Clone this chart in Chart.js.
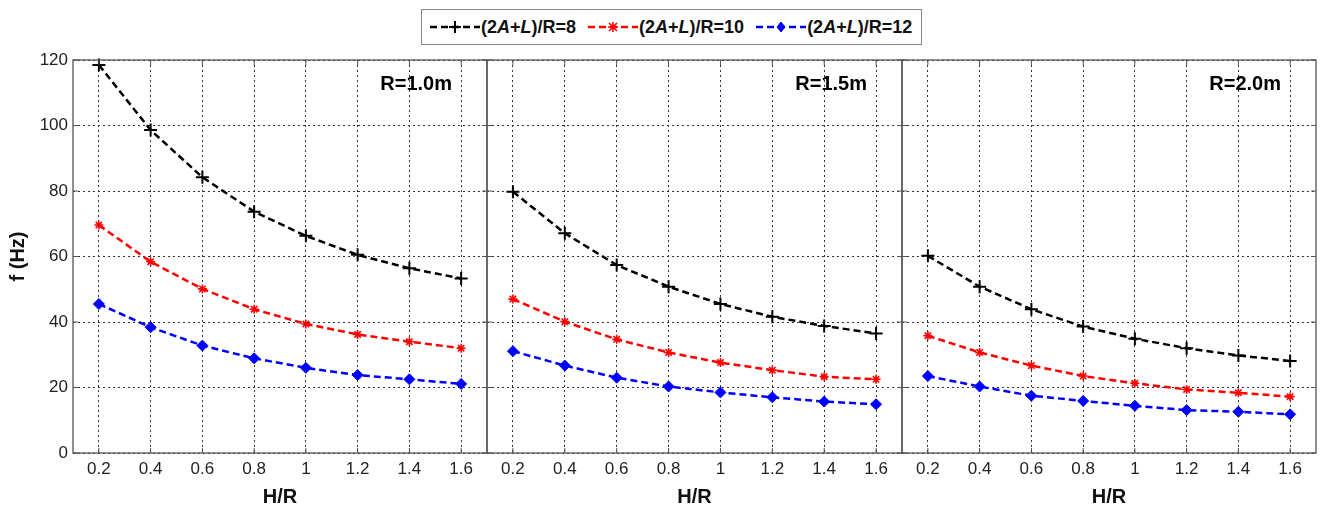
<!DOCTYPE html>
<html>
<head>
<meta charset="utf-8">
<script src="https://cdn.jsdelivr.net/npm/chart.js@4.4.1/dist/chart.umd.min.js"></script>
<style>
  body { margin: 0; background: #fff; width: 1322px; height: 509px; position: relative; overflow: hidden; font-family: Arial, "Liberation Sans", sans-serif; }
  canvas { position: absolute; top: 0; }
  #legend { position: absolute; left: 421px; top: 9px; width: 501px; height: 36px; border: 1px solid #888; background: #fff; display: flex; align-items: center; padding-left: 8px; box-sizing: border-box; z-index: 2; }
  .item { display: flex; align-items: center; margin-right: 12px; font-weight: bold; font-size: 18px; color: #111; }
  .item svg { margin-right: 1px; }
</style>
</head>
<body>
<div id="legend"></div>
<canvas id="p1" width="490" height="509" style="left:0px"></canvas>
<canvas id="p2" width="421" height="509" style="left:484px"></canvas>
<canvas id="p3" width="420" height="509" style="left:899px"></canvas>
<script>
// data
const hrValues = [0.2, 0.4, 0.6, 0.8, 1.0, 1.2, 1.4, 1.6];
const yTickValues = [0, 20, 40, 60, 80, 100, 120];
const seriesLabels = ['(2A+L)/R=8', '(2A+L)/R=10', '(2A+L)/R=12'];
const panelTitles = ['R=1.0m', 'R=1.5m', 'R=2.0m'];

// R = 1.0 m
const fR10_8  = [118.5, 98.6, 84.2, 73.7, 66.3, 60.5, 56.4, 53.3];
const fR10_10 = [69.6, 58.4, 50.1, 43.9, 39.4, 36.2, 34.0, 32.0];
const fR10_12 = [45.5, 38.4, 32.8, 28.9, 26.0, 23.8, 22.5, 21.1];
// R = 1.5 m
const fR15_8  = [79.8, 67.1, 57.4, 50.8, 45.5, 41.6, 38.8, 36.5];
const fR15_10 = [47.0, 40.1, 34.7, 30.7, 27.6, 25.3, 23.3, 22.5];
const fR15_12 = [31.1, 26.7, 23.0, 20.3, 18.5, 17.0, 15.7, 14.9];
// R = 2.0 m
const fR20_8  = [60.2, 50.8, 43.9, 38.6, 34.9, 32.0, 29.8, 28.1];
const fR20_10 = [35.8, 30.7, 26.7, 23.5, 21.3, 19.4, 18.4, 17.2];
const fR20_12 = [23.5, 20.3, 17.5, 15.9, 14.4, 13.1, 12.6, 11.8];

const panelData = [
  [fR10_8, fR10_10, fR10_12],
  [fR15_8, fR15_10, fR15_12],
  [fR20_8, fR20_10, fR20_12]
];

const seriesStyle = [
  { color: '#000', pointStyle: 'cross', radius: 6.5, pw: 2, fill: '#000' },
  { color: '#f00', pointStyle: 'star', radius: 4.5, pw: 1.6, fill: '#f00' },
  { color: '#00f', pointStyle: 'rectRot', radius: 5.5, pw: 1, fill: '#00f' }
];

const FONT = 'Arial, "Liberation Sans", sans-serif';

// legend (html)
const legend = document.getElementById('legend');
seriesLabels.forEach((lab, i) => {
  const s = seriesStyle[i];
  let marker;
  if (i === 0) marker = `<path d="M25 3 V15 M19 9 H31" stroke="${s.color}" stroke-width="2"/>`;
  else if (i === 1) marker = `<path d="M21 5 L29 13 M29 5 L21 13 M25 4 V14 M20 9 H30" stroke="${s.color}" stroke-width="1.6"/>`;
  else marker = `<path d="M25 4 L29 9 L25 14 L21 9 Z" fill="${s.color}" stroke="${s.color}"/>`;
  const div = document.createElement('div');
  div.className = 'item';
  div.innerHTML = `<svg width="50" height="18"><line x1="0" y1="9" x2="50" y2="9" stroke="${s.color}" stroke-width="2.5" stroke-dasharray="7,4"/>${marker}</svg>` +
    `<span>${lab.replace(/([AL])/g, '<i>$1</i>')}</span>`;
  legend.appendChild(div);
});

// frame, inward ticks and panel label
const framePlugin = {
  id: 'frame',
  afterDraw(chart, args, opts) {
    const { ctx, chartArea: a, scales } = chart;
    ctx.save();
    ctx.strokeStyle = '#555';
    ctx.lineWidth = 1.3;
    ctx.strokeRect(a.left, a.top, a.right - a.left, a.bottom - a.top);
    ctx.lineWidth = 1;
    ctx.beginPath();
    hrValues.forEach(v => {
      const x = scales.x.getPixelForValue(v);
      ctx.moveTo(x, a.bottom); ctx.lineTo(x, a.bottom - 5);
      ctx.moveTo(x, a.top); ctx.lineTo(x, a.top + 5);
    });
    yTickValues.forEach(v => {
      const y = scales.y.getPixelForValue(v);
      ctx.moveTo(a.left, y); ctx.lineTo(a.left + 5, y);
      ctx.moveTo(a.right, y); ctx.lineTo(a.right - 5, y);
    });
    ctx.stroke();
    ctx.fillStyle = '#000';
    ctx.font = 'bold 20px ' + FONT;
    ctx.textAlign = 'right';
    ctx.textBaseline = 'middle';
    ctx.fillText(opts.title, a.right - 35, a.top + 24);
    ctx.restore();
  }
};

function makePanel(id, idx) {
  const first = idx === 0;
  const datasets = panelData[idx].map((vals, i) => {
    const s = seriesStyle[i];
    return {
      label: seriesLabels[i],
      data: hrValues.map((h, j) => ({ x: h, y: vals[j] })),
      borderColor: s.color,
      backgroundColor: s.fill,
      borderWidth: 2.5,
      borderDash: [7, 4],
      pointStyle: s.pointStyle,
      pointRadius: s.radius,
      pointBorderWidth: s.pw,
      pointBorderColor: s.color,
      pointBackgroundColor: s.fill,
      tension: 0,
      clip: false
    };
  });

  new Chart(document.getElementById(id), {
    type: 'line',
    data: { datasets },
    plugins: [framePlugin],
    options: {
      responsive: false,
      animation: false,
      layout: { autoPadding: false, padding: { top: 60, right: 3, bottom: 0, left: 0 } },
      plugins: {
        legend: { display: false },
        tooltip: { enabled: false },
        frame: { title: panelTitles[idx] }
      },
      scales: {
        x: {
          type: 'linear',
          min: 0.1,
          max: 1.7,
          afterBuildTicks: s => { s.ticks = hrValues.map(v => ({ value: v })); },
          afterFit: s => { s.height = 56; },
          grid: { color: '#333', lineWidth: 1, drawTicks: false },
          border: { display: false, dash: [2, 3] },
          ticks: {
            padding: 6,
            color: '#222',
            font: { family: FONT, size: 17 },
            callback: v => String(+v.toFixed(1))
          },
          title: {
            display: true,
            text: 'H/R',
            color: '#111',
            font: { family: FONT, size: 20, weight: 'bold' },
            padding: { top: 0, bottom: 0 }
          }
        },
        y: {
          min: 0,
          max: 120,
          afterBuildTicks: s => { s.ticks = yTickValues.map(v => ({ value: v })); },
          afterFit: s => { s.width = first ? 73 : 3; },
          grid: { color: '#333', lineWidth: 1, drawTicks: false },
          border: { display: false, dash: [2, 3] },
          ticks: {
            display: first,
            padding: 5,
            color: '#222',
            font: { family: FONT, size: 17 }
          },
          title: {
            display: first,
            text: 'f (Hz)',
            color: '#111',
            font: { family: FONT, size: 20, weight: 'bold' },
            padding: { top: 6, bottom: 0 }
          }
        }
      }
    }
  });
}

makePanel('p1', 0);
makePanel('p2', 1);
makePanel('p3', 2);
</script>
</body>
</html>
